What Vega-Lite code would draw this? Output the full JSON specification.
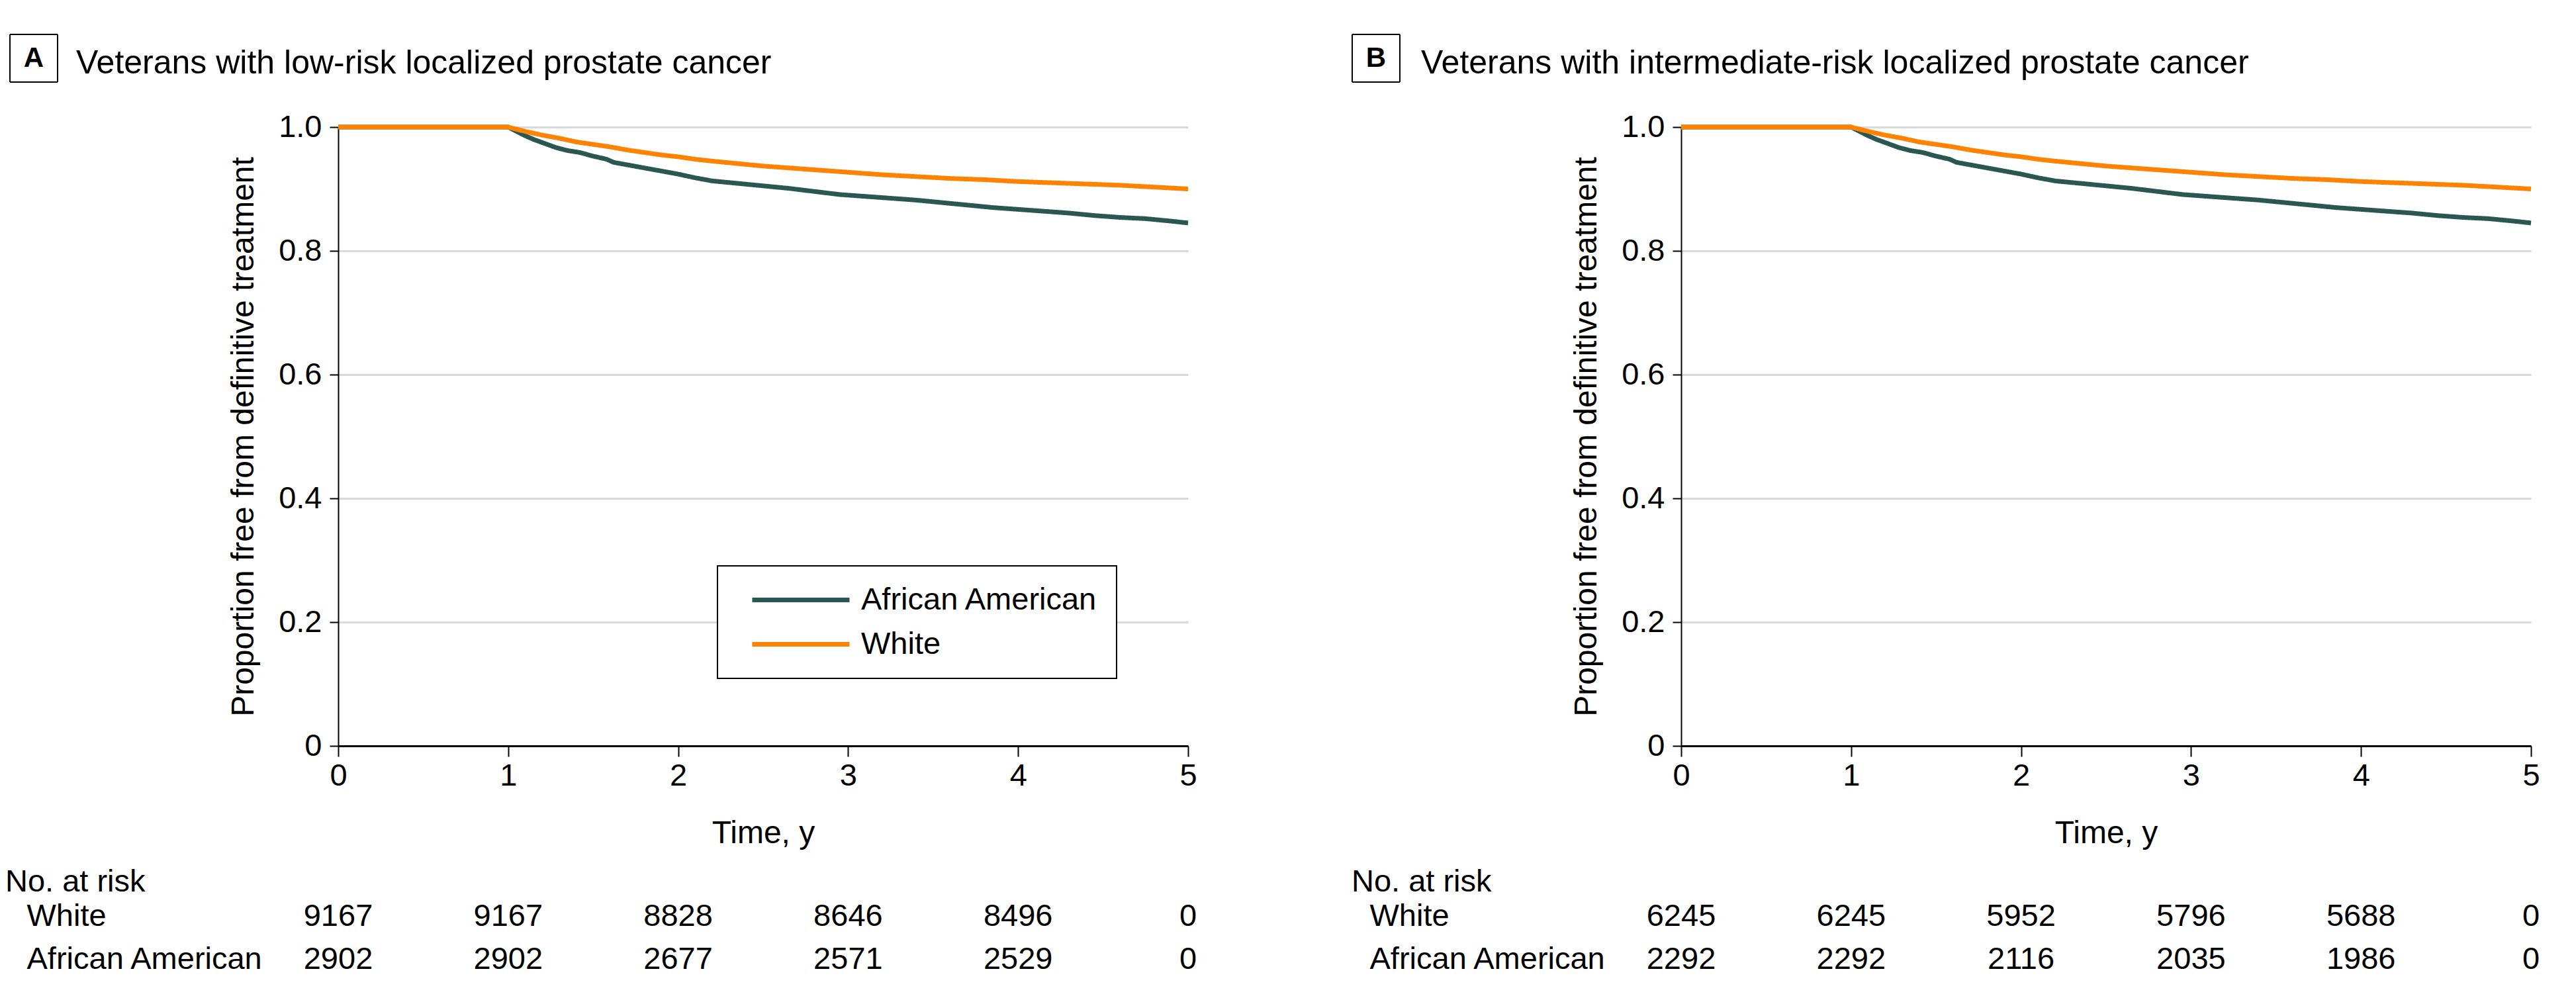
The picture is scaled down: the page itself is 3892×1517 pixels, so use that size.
{
  "$schema": "https://vega.github.io/schema/vega-lite/v6.json",
  "background": "white",
  "padding": {"left": 8, "top": 51, "right": 5, "bottom": 5},
  "datasets": {
    "curves": [
      {"p":"A","r":"African American","t":0,"s":1},{"p":"A","r":"African American","t":1,"s":1},{"p":"A","r":"African American","t":1.05,"s":0.993},{"p":"A","r":"African American","t":1.1,"s":0.986},{"p":"A","r":"African American","t":1.15,"s":0.98},{"p":"A","r":"African American","t":1.2,"s":0.975},{"p":"A","r":"African American","t":1.28,"s":0.967},{"p":"A","r":"African American","t":1.35,"s":0.962},{"p":"A","r":"African American","t":1.42,"s":0.959},{"p":"A","r":"African American","t":1.5,"s":0.953},{"p":"A","r":"African American","t":1.58,"s":0.948},{"p":"A","r":"African American","t":1.62,"s":0.943},{"p":"A","r":"African American","t":1.7,"s":0.939},{"p":"A","r":"African American","t":1.8,"s":0.934},{"p":"A","r":"African American","t":1.9,"s":0.929},{"p":"A","r":"African American","t":2.0,"s":0.924},{"p":"A","r":"African American","t":2.1,"s":0.918},{"p":"A","r":"African American","t":2.2,"s":0.913},{"p":"A","r":"African American","t":2.35,"s":0.909},{"p":"A","r":"African American","t":2.5,"s":0.905},{"p":"A","r":"African American","t":2.65,"s":0.901},{"p":"A","r":"African American","t":2.8,"s":0.896},{"p":"A","r":"African American","t":2.95,"s":0.891},{"p":"A","r":"African American","t":3.1,"s":0.888},{"p":"A","r":"African American","t":3.25,"s":0.885},{"p":"A","r":"African American","t":3.4,"s":0.882},{"p":"A","r":"African American","t":3.55,"s":0.878},{"p":"A","r":"African American","t":3.7,"s":0.874},{"p":"A","r":"African American","t":3.85,"s":0.87},{"p":"A","r":"African American","t":4.0,"s":0.867},{"p":"A","r":"African American","t":4.15,"s":0.864},{"p":"A","r":"African American","t":4.3,"s":0.861},{"p":"A","r":"African American","t":4.45,"s":0.857},{"p":"A","r":"African American","t":4.6,"s":0.854},{"p":"A","r":"African American","t":4.75,"s":0.852},{"p":"A","r":"African American","t":4.9,"s":0.848},{"p":"A","r":"African American","t":5.0,"s":0.845},
      {"p":"A","r":"White","t":0,"s":1},{"p":"A","r":"White","t":1,"s":1},{"p":"A","r":"White","t":1.1,"s":0.993},{"p":"A","r":"White","t":1.2,"s":0.987},{"p":"A","r":"White","t":1.3,"s":0.982},{"p":"A","r":"White","t":1.4,"s":0.976},{"p":"A","r":"White","t":1.5,"s":0.972},{"p":"A","r":"White","t":1.6,"s":0.968},{"p":"A","r":"White","t":1.7,"s":0.963},{"p":"A","r":"White","t":1.8,"s":0.959},{"p":"A","r":"White","t":1.9,"s":0.955},{"p":"A","r":"White","t":2.0,"s":0.952},{"p":"A","r":"White","t":2.1,"s":0.948},{"p":"A","r":"White","t":2.2,"s":0.945},{"p":"A","r":"White","t":2.35,"s":0.941},{"p":"A","r":"White","t":2.5,"s":0.937},{"p":"A","r":"White","t":2.65,"s":0.934},{"p":"A","r":"White","t":2.8,"s":0.931},{"p":"A","r":"White","t":3.0,"s":0.927},{"p":"A","r":"White","t":3.2,"s":0.923},{"p":"A","r":"White","t":3.4,"s":0.92},{"p":"A","r":"White","t":3.6,"s":0.917},{"p":"A","r":"White","t":3.8,"s":0.915},{"p":"A","r":"White","t":4.0,"s":0.912},{"p":"A","r":"White","t":4.2,"s":0.91},{"p":"A","r":"White","t":4.4,"s":0.908},{"p":"A","r":"White","t":4.6,"s":0.906},{"p":"A","r":"White","t":4.8,"s":0.903},{"p":"A","r":"White","t":5.0,"s":0.9},
      {"p":"B","r":"African American","t":0,"s":1},{"p":"B","r":"African American","t":1,"s":1},{"p":"B","r":"African American","t":1.05,"s":0.993},{"p":"B","r":"African American","t":1.1,"s":0.986},{"p":"B","r":"African American","t":1.15,"s":0.98},{"p":"B","r":"African American","t":1.2,"s":0.975},{"p":"B","r":"African American","t":1.28,"s":0.967},{"p":"B","r":"African American","t":1.35,"s":0.962},{"p":"B","r":"African American","t":1.42,"s":0.959},{"p":"B","r":"African American","t":1.5,"s":0.953},{"p":"B","r":"African American","t":1.58,"s":0.948},{"p":"B","r":"African American","t":1.62,"s":0.943},{"p":"B","r":"African American","t":1.7,"s":0.939},{"p":"B","r":"African American","t":1.8,"s":0.934},{"p":"B","r":"African American","t":1.9,"s":0.929},{"p":"B","r":"African American","t":2.0,"s":0.924},{"p":"B","r":"African American","t":2.1,"s":0.918},{"p":"B","r":"African American","t":2.2,"s":0.913},{"p":"B","r":"African American","t":2.35,"s":0.909},{"p":"B","r":"African American","t":2.5,"s":0.905},{"p":"B","r":"African American","t":2.65,"s":0.901},{"p":"B","r":"African American","t":2.8,"s":0.896},{"p":"B","r":"African American","t":2.95,"s":0.891},{"p":"B","r":"African American","t":3.1,"s":0.888},{"p":"B","r":"African American","t":3.25,"s":0.885},{"p":"B","r":"African American","t":3.4,"s":0.882},{"p":"B","r":"African American","t":3.55,"s":0.878},{"p":"B","r":"African American","t":3.7,"s":0.874},{"p":"B","r":"African American","t":3.85,"s":0.87},{"p":"B","r":"African American","t":4.0,"s":0.867},{"p":"B","r":"African American","t":4.15,"s":0.864},{"p":"B","r":"African American","t":4.3,"s":0.861},{"p":"B","r":"African American","t":4.45,"s":0.857},{"p":"B","r":"African American","t":4.6,"s":0.854},{"p":"B","r":"African American","t":4.75,"s":0.852},{"p":"B","r":"African American","t":4.9,"s":0.848},{"p":"B","r":"African American","t":5.0,"s":0.845},
      {"p":"B","r":"White","t":0,"s":1},{"p":"B","r":"White","t":1,"s":1},{"p":"B","r":"White","t":1.1,"s":0.993},{"p":"B","r":"White","t":1.2,"s":0.987},{"p":"B","r":"White","t":1.3,"s":0.982},{"p":"B","r":"White","t":1.4,"s":0.976},{"p":"B","r":"White","t":1.5,"s":0.972},{"p":"B","r":"White","t":1.6,"s":0.968},{"p":"B","r":"White","t":1.7,"s":0.963},{"p":"B","r":"White","t":1.8,"s":0.959},{"p":"B","r":"White","t":1.9,"s":0.955},{"p":"B","r":"White","t":2.0,"s":0.952},{"p":"B","r":"White","t":2.1,"s":0.948},{"p":"B","r":"White","t":2.2,"s":0.945},{"p":"B","r":"White","t":2.35,"s":0.941},{"p":"B","r":"White","t":2.5,"s":0.937},{"p":"B","r":"White","t":2.65,"s":0.934},{"p":"B","r":"White","t":2.8,"s":0.931},{"p":"B","r":"White","t":3.0,"s":0.927},{"p":"B","r":"White","t":3.2,"s":0.923},{"p":"B","r":"White","t":3.4,"s":0.92},{"p":"B","r":"White","t":3.6,"s":0.917},{"p":"B","r":"White","t":3.8,"s":0.915},{"p":"B","r":"White","t":4.0,"s":0.912},{"p":"B","r":"White","t":4.2,"s":0.91},{"p":"B","r":"White","t":4.4,"s":0.908},{"p":"B","r":"White","t":4.6,"s":0.906},{"p":"B","r":"White","t":4.8,"s":0.903},{"p":"B","r":"White","t":5.0,"s":0.9}
    ],
    "risk": [
      {"p":"A","g":"White","t":0,"n":9167},{"p":"A","g":"White","t":1,"n":9167},{"p":"A","g":"White","t":2,"n":8828},{"p":"A","g":"White","t":3,"n":8646},{"p":"A","g":"White","t":4,"n":8496},{"p":"A","g":"White","t":5,"n":0},
      {"p":"A","g":"African American","t":0,"n":2902},{"p":"A","g":"African American","t":1,"n":2902},{"p":"A","g":"African American","t":2,"n":2677},{"p":"A","g":"African American","t":3,"n":2571},{"p":"A","g":"African American","t":4,"n":2529},{"p":"A","g":"African American","t":5,"n":0},
      {"p":"B","g":"White","t":0,"n":6245},{"p":"B","g":"White","t":1,"n":6245},{"p":"B","g":"White","t":2,"n":5952},{"p":"B","g":"White","t":3,"n":5796},{"p":"B","g":"White","t":4,"n":5688},{"p":"B","g":"White","t":5,"n":0},
      {"p":"B","g":"African American","t":0,"n":2292},{"p":"B","g":"African American","t":1,"n":2292},{"p":"B","g":"African American","t":2,"n":2116},{"p":"B","g":"African American","t":3,"n":2035},{"p":"B","g":"African American","t":4,"n":1986},{"p":"B","g":"African American","t":5,"n":0}
    ]
  },
  "columns": 2,
  "spacing": {"row": 26, "column": 233},
  "align": "each",
  "resolve": {
    "scale": {"color": "independent", "strokeDash": "independent", "x": "independent", "y": "independent"},
    "legend": {"color": "independent", "strokeDash": "independent"}
  },
  "concat": [
    {
      "width": 1284, "height": 935,
      "data": {"name": "curves"},
      "transform": [{"filter": "datum.p === 'A'"}],
      "title": {"text": "Veterans with low-risk localized prostate cancer", "anchor": "start", "frame": "group", "dx": -396, "dy": 110, "fontSize": 50, "baseline": "alphabetic", "offset": 0},
      "mark": {"type": "line", "strokeWidth": 7},
      "encoding": {
        "x": {"field": "t", "type": "quantitative", "scale": {"domain": [0, 5], "nice": false, "zero": false},
              "axis": {"values": [0,1,2,3,4,5], "format": "d", "grid": false, "title": "Time, y", "tickSize": 16, "tickWidth": 2, "domainWidth": 3, "labelFontSize": 47, "labelPadding": 6, "labelFlush": false, "titleFontSize": 48, "titlePadding": 40}},
        "y": {"field": "s", "type": "quantitative", "scale": {"domain": [0, 1], "nice": false},
              "axis": {"values": [0,0.2,0.4,0.6,0.8,1], "labelExpr": "datum.value === 0 ? '0' : format(datum.value, '.1f')", "grid": true, "gridColor": "#d9d9d9", "gridWidth": 3, "tickSize": 13, "tickWidth": 2, "domainWidth": 2, "labelFontSize": 47, "labelPadding": 12, "title": "Proportion free from definitive treatment", "titleFontSize": 48, "titlePadding": 28}},
        "color": {"field": "r", "type": "nominal", "scale": {"domain": ["African American", "White"], "range": ["#2b5753", "#ff8200"]},
                  "legend": {"orient": "none", "legendX": 573, "legendY": 663, "title": null, "strokeColor": "black", "fillColor": "white", "padding": 28, "symbolType": "stroke", "symbolSize": 21609, "symbolStrokeWidth": 7, "labelFontSize": 47, "labelLimit": 0, "labelOffset": 14, "symbolOffset": 21, "rowPadding": 19, "clipHeight": 47}},
        "strokeDash": {"field": "p", "type": "nominal", "scale": {"domain": ["A"], "range": [[1, 0]]},
                  "legend": {"orient": "none", "legendX": -497, "legendY": -141, "title": null, "padding": 0, "symbolType": "square", "symbolSize": 5184, "symbolStrokeWidth": 2, "symbolStrokeColor": "black", "symbolFillColor": "white", "symbolOpacity": 1, "symbolOffset": 0, "labelFontSize": 42, "labelFontWeight": "bold", "labelLimit": 0, "labelAlign": "center", "labelBaseline": "middle", "labelOffset": -37}}
      }
    },
    {
      "width": 1284, "height": 935,
      "data": {"name": "curves"},
      "transform": [{"filter": "datum.p === 'B'"}],
      "title": {"text": "Veterans with intermediate-risk localized prostate cancer", "anchor": "start", "frame": "group", "dx": -393, "dy": 110, "fontSize": 50, "baseline": "alphabetic", "offset": 0},
      "mark": {"type": "line", "strokeWidth": 7},
      "encoding": {
        "x": {"field": "t", "type": "quantitative", "scale": {"domain": [0, 5], "nice": false, "zero": false},
              "axis": {"values": [0,1,2,3,4,5], "format": "d", "grid": false, "title": "Time, y", "tickSize": 16, "tickWidth": 2, "domainWidth": 3, "labelFontSize": 47, "labelPadding": 6, "labelFlush": false, "titleFontSize": 48, "titlePadding": 40}},
        "y": {"field": "s", "type": "quantitative", "scale": {"domain": [0, 1], "nice": false},
              "axis": {"values": [0,0.2,0.4,0.6,0.8,1], "labelExpr": "datum.value === 0 ? '0' : format(datum.value, '.1f')", "grid": true, "gridColor": "#d9d9d9", "gridWidth": 3, "tickSize": 13, "tickWidth": 2, "domainWidth": 2, "labelFontSize": 47, "labelPadding": 12, "title": "Proportion free from definitive treatment", "titleFontSize": 48, "titlePadding": 28}},
        "color": {"field": "r", "type": "nominal", "scale": {"domain": ["African American", "White"], "range": ["#2b5753", "#ff8200"]}, "legend": null},
        "strokeDash": {"field": "p", "type": "nominal", "scale": {"domain": ["B"], "range": [[1, 0]]},
                  "legend": {"orient": "none", "legendX": -498, "legendY": -141, "title": null, "padding": 0, "symbolType": "square", "symbolSize": 5184, "symbolStrokeWidth": 2, "symbolStrokeColor": "black", "symbolFillColor": "white", "symbolOpacity": 1, "symbolOffset": 0, "labelFontSize": 42, "labelFontWeight": "bold", "labelLimit": 0, "labelAlign": "center", "labelBaseline": "middle", "labelOffset": -37}}
      }
    },
    {
      "width": 1284, "height": 130,
      "data": {"name": "risk"},
      "transform": [{"filter": "datum.p === 'A'"}],
      "title": {"text": "No. at risk", "anchor": "start", "frame": "group", "dx": -503, "fontSize": 47, "baseline": "alphabetic", "offset": -42},
      "mark": {"type": "text", "fontSize": 47},
      "encoding": {
        "x": {"field": "t", "type": "quantitative", "scale": {"domain": [0, 5], "nice": false, "zero": false}, "axis": null},
        "y": {"field": "g", "type": "nominal", "scale": {"type": "point", "padding": 0.5, "domain": ["White", "African American"]},
              "axis": {"title": null, "domain": false, "ticks": false, "tickSize": 0, "grid": false, "labelAlign": "left", "labelPadding": 471, "labelFontSize": 47, "labelLimit": 0}},
        "text": {"field": "n", "type": "quantitative", "format": "d"}
      }
    },
    {
      "width": 1284, "height": 130,
      "data": {"name": "risk"},
      "transform": [{"filter": "datum.p === 'B'"}],
      "title": {"text": "No. at risk", "anchor": "start", "frame": "group", "dx": -498, "fontSize": 47, "baseline": "alphabetic", "offset": -42},
      "mark": {"type": "text", "fontSize": 47},
      "encoding": {
        "x": {"field": "t", "type": "quantitative", "scale": {"domain": [0, 5], "nice": false, "zero": false}, "axis": null},
        "y": {"field": "g", "type": "nominal", "scale": {"type": "point", "padding": 0.5, "domain": ["White", "African American"]},
              "axis": {"title": null, "domain": false, "ticks": false, "tickSize": 0, "grid": false, "labelAlign": "left", "labelPadding": 471, "labelFontSize": 47, "labelLimit": 0}},
        "text": {"field": "n", "type": "quantitative", "format": "d"}
      }
    }
  ],
  "config": {
    "font": "Liberation Sans",
    "view": {"stroke": null},
    "axis": {"labelColor": "black", "titleColor": "black", "domainColor": "black", "tickColor": "black", "titleFontWeight": "normal", "labelFont": "Liberation Sans", "titleFont": "Liberation Sans"},
    "legend": {"labelColor": "black", "strokeWidth": 2, "labelFont": "Liberation Sans"},
    "title": {"color": "black", "fontWeight": "normal", "font": "Liberation Sans"},
    "text": {"color": "black", "font": "Liberation Sans"}
  }
}
